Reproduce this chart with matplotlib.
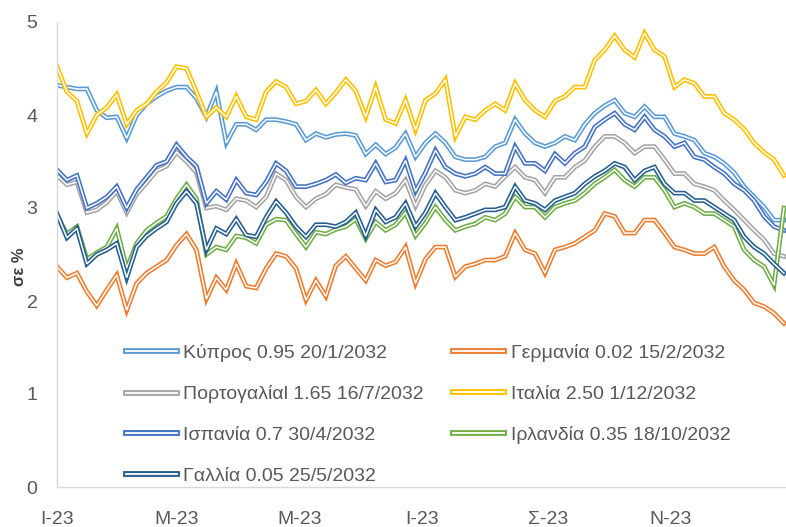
import numpy as np
import pandas as pd
import matplotlib
matplotlib.use('Agg')
import matplotlib.pyplot as plt
from matplotlib.lines import Line2D

plt.rcParams['font.family'] = ['Liberation Sans Narrow', 'Liberation Sans', 'DejaVu Sans']

dates = pd.date_range('2023-01-01', '2023-12-27', periods=74)

cyprus = [4.32, 4.30, 4.28, 4.28, 4.05, 3.97, 3.98, 3.75, 4.00, 4.12, 4.20, 4.26, 4.30, 4.30, 4.18, 3.98, 4.25, 3.70, 3.90,
          3.90, 3.84, 3.95, 3.95, 3.93, 3.90, 3.73, 3.80, 3.76, 3.79, 3.80, 3.78, 3.58, 3.68, 3.58, 3.65, 3.80, 3.55, 3.70,
          3.80, 3.70, 3.55, 3.52, 3.52, 3.55, 3.66, 3.70, 3.95, 3.80, 3.70, 3.66, 3.70, 3.77, 3.73, 3.90, 4.02, 4.10,
          4.16, 4.02, 3.98, 4.09, 3.98, 3.98, 3.80, 3.77, 3.73, 3.59, 3.55, 3.48, 3.38, 3.23, 3.12, 3.01, 2.87, 2.87]
germany = [2.37, 2.25, 2.30, 2.10, 1.95, 2.12, 2.28, 1.90, 2.19, 2.30, 2.37, 2.44, 2.60, 2.72, 2.55, 2.02, 2.25, 2.12, 2.40,
           2.16, 2.14, 2.35, 2.51, 2.48, 2.35, 2.01, 2.22, 2.05, 2.38, 2.48, 2.35, 2.22, 2.44, 2.38, 2.42, 2.58, 2.19, 2.45,
           2.58, 2.58, 2.26, 2.37, 2.40, 2.44, 2.44, 2.48, 2.73, 2.55, 2.51, 2.30, 2.55, 2.58, 2.62, 2.69, 2.76, 2.94,
           2.91, 2.73, 2.73, 2.87, 2.87, 2.73, 2.58, 2.55, 2.51, 2.51, 2.58, 2.37, 2.22, 2.12, 1.98, 1.94, 1.87, 1.76]
portugal = [3.35, 3.25, 3.28, 2.95, 2.98, 3.06, 3.18, 2.95, 3.15, 3.27, 3.40, 3.45, 3.60, 3.50, 3.38, 3.00, 3.02, 2.98, 3.10,
            3.08, 3.01, 3.12, 3.37, 3.30, 3.12, 3.01, 3.10, 3.15, 3.25, 3.22, 3.20, 3.02, 3.18, 3.10, 3.16, 3.30, 3.02, 3.25,
            3.40, 3.33, 3.19, 3.16, 3.19, 3.26, 3.23, 3.34, 3.44, 3.33, 3.30, 3.16, 3.33, 3.33, 3.44, 3.51, 3.66, 3.77,
            3.77, 3.70, 3.59, 3.66, 3.66, 3.52, 3.37, 3.37, 3.26, 3.23, 3.19, 3.08, 2.98, 2.87, 2.76, 2.66, 2.51, 2.48]
italy = [4.52, 4.25, 4.15, 3.80, 4.00, 4.08, 4.22, 3.90, 4.05, 4.12, 4.25, 4.35, 4.52, 4.50, 4.25, 3.98, 4.08, 3.98, 4.20,
         3.98, 3.95, 4.25, 4.36, 4.30, 4.12, 4.15, 4.27, 4.12, 4.24, 4.38, 4.26, 3.98, 4.30, 3.95, 3.91, 4.16, 3.84, 4.16,
         4.23, 4.38, 3.77, 3.98, 3.95, 4.05, 4.12, 4.05, 4.34, 4.16, 4.05, 3.98, 4.15, 4.20, 4.30, 4.30, 4.59, 4.70,
         4.85, 4.70, 4.62, 4.88, 4.70, 4.63, 4.30, 4.38, 4.34, 4.20, 4.20, 4.02, 3.95, 3.85, 3.70, 3.60, 3.52, 3.35]
spain = [3.41, 3.30, 3.35, 3.00, 3.05, 3.12, 3.23, 3.00, 3.20, 3.33, 3.46, 3.50, 3.68, 3.55, 3.45, 3.05, 3.18, 3.09, 3.30,
         3.16, 3.14, 3.28, 3.48, 3.40, 3.23, 3.23, 3.26, 3.30, 3.36, 3.27, 3.32, 3.30, 3.48, 3.28, 3.30, 3.51, 3.18, 3.38,
         3.62, 3.44, 3.37, 3.34, 3.37, 3.44, 3.37, 3.37, 3.66, 3.48, 3.48, 3.40, 3.58, 3.48, 3.59, 3.66, 3.87, 3.95,
         4.02, 3.90, 3.84, 3.98, 3.84, 3.77, 3.66, 3.70, 3.55, 3.52, 3.44, 3.37, 3.26, 3.19, 3.08, 2.91, 2.80, 2.76]
ireland = [2.92, 2.72, 2.80, 2.45, 2.52, 2.58, 2.78, 2.35, 2.62, 2.76, 2.84, 2.91, 3.10, 3.25, 3.10, 2.50, 2.58, 2.55, 2.70,
           2.68, 2.62, 2.82, 2.88, 2.87, 2.72, 2.58, 2.74, 2.72, 2.77, 2.80, 2.88, 2.67, 2.85, 2.76, 2.82, 2.95, 2.70, 2.84,
           3.01, 2.87, 2.76, 2.80, 2.83, 2.90, 2.87, 2.94, 3.12, 3.01, 3.01, 2.90, 3.01, 3.05, 3.08, 3.16, 3.26, 3.33,
           3.41, 3.30, 3.23, 3.33, 3.33, 3.19, 3.01, 3.05, 3.01, 2.94, 2.94, 2.87, 2.80, 2.55, 2.44, 2.37, 2.17, 3.00]
france = [2.94, 2.68, 2.78, 2.40, 2.50, 2.55, 2.62, 2.25, 2.58, 2.70, 2.78, 2.85, 3.05, 3.18, 3.05, 2.55, 2.78, 2.72, 2.88,
          2.71, 2.69, 2.90, 3.07, 2.95, 2.80, 2.69, 2.82, 2.82, 2.80, 2.85, 2.95, 2.70, 2.98, 2.85, 2.90, 3.05, 2.80, 2.95,
          3.16, 3.01, 2.87, 2.90, 2.94, 2.98, 2.98, 3.01, 3.23, 3.08, 3.05, 2.98, 3.08, 3.12, 3.16, 3.26, 3.34, 3.40,
          3.48, 3.44, 3.30, 3.40, 3.44, 3.26, 3.16, 3.16, 3.08, 3.08, 3.01, 2.94, 2.87, 2.69, 2.58, 2.51, 2.40, 2.30]

labels = ['Κύπρος 0.95 20/1/2032', 'Γερμανία 0.02 15/2/2032', 'Πορτογαλίαl 1.65 16/7/2032',
          'Ιταλία 2.50 1/12/2032', 'Ισπανία 0.7 30/4/2032', 'Ιρλανδία 0.35 18/10/2032',
          'Γαλλία 0.05 25/5/2032']
series = [cyprus, germany, portugal, italy, spain, ireland, france]
colors = ['#5B9BD5', '#ED7D31', '#A5A5A5', '#FFC000', '#4472C4', '#70AD47', '#255E91']

xtick_dates = pd.to_datetime(['2023-01-01', '2023-03-01', '2023-05-01', '2023-07-01', '2023-09-01', '2023-11-01'])
xtick_labels = ['I-23', 'M-23', 'M-23', 'I-23', 'Σ-23', 'N-23']

fig = plt.figure(figsize=(7.86, 5.27), dpi=100)
ax = fig.add_axes([57/786, 1-487/527, 1-57/786, 465/527])

handles = []
for vals, col in zip(series, colors):
    ax.plot(dates, vals, color=col, lw=3.4, solid_joinstyle='miter')
    ax.plot(dates, vals, color='white', lw=1.1, solid_joinstyle='miter')
    handles.append((Line2D([], [], color=col, lw=4.2), Line2D([], [], color='white', lw=1.3)))

ax.set_ylim(0, 5)
ax.set_xlim(pd.Timestamp('2023-01-01'), pd.Timestamp('2023-12-28'))
ax.set_yticks(range(6))
ax.set_xticks(xtick_dates)
ax.set_xticklabels(xtick_labels)
ax.tick_params(length=0, labelsize=14, colors='#595959')
ax.tick_params(axis='x', pad=17)
ax.tick_params(axis='y', pad=14)
for s in ['top', 'right']:
    ax.spines[s].set_visible(False)
for s in ['left', 'bottom']:
    ax.spines[s].set_color('#D9D9D9')
    ax.spines[s].set_linewidth(1.0)

fig.text(20/786, 1-267/527, 'σε %', rotation=90, fontsize=12, fontweight='bold',
         color='#404040', ha='center', va='center')

# legend is filled row by row in the original, matplotlib fills columns
order = [0, 2, 4, 6, 1, 3, 5]
leg = ax.legend([handles[i] for i in order], [labels[i] for i in order], ncol=2, fontsize=14, frameon=False,
                loc='upper left', bbox_to_anchor=(126/786, 1-344/527), bbox_transform=fig.transFigure,
                borderpad=0, borderaxespad=0, handlelength=2.6, handletextpad=0.35,
                labelspacing=1.2, columnspacing=1.5)
for t in leg.get_texts():
    t.set_color('#595959')

plt.savefig('out.png', dpi=100)
